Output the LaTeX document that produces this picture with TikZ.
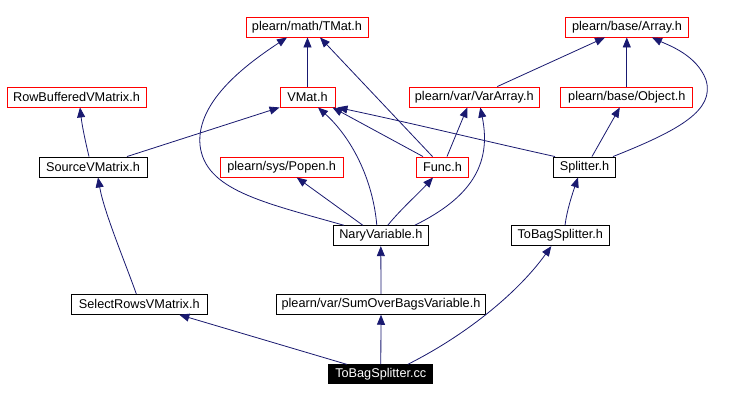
\documentclass[tikz,border=0pt]{standalone}
\usepackage{fontspec}
\setmainfont{Liberation Sans}
\usetikzlibrary{arrows.meta}
\definecolor{edgeblue}{HTML}{191970}
\begin{document}
\begin{tikzpicture}[x=1pt,y=-1pt,
  box/.style={draw=black,line width=0.9pt,minimum height=20pt,inner sep=0pt,
    font=\fontsize{12.7}{14}\selectfont,anchor=center},
  redbox/.style={box,draw=red},
  edge/.style={draw=edgeblue,line width=0.8pt,-{Triangle[length=10pt,width=8pt]}}]
\useasboundingbox (0,0) rectangle (748,401);
\fill[white] (0,0) rectangle (748,401);
% nodes
\node[redbox,minimum width=122pt] (tmat) at (307,27) {plearn/math/TMat.h};
\node[redbox,minimum width=123pt] (array) at (627,27) {plearn/base/Array.h};
\node[redbox,minimum width=139pt] (rowbuf) at (76.5,97) {RowBufferedVMatrix.h};
\node[redbox,minimum width=55pt] (vmat) at (307.5,97) {VMat.h};
\node[redbox,minimum width=130pt] (vararray) at (474.3,97) {plearn/var/VarArray.h};
\node[redbox,minimum width=132pt] (object) at (626.8,97) {plearn/base/Object.h};
\node[box,minimum width=108pt] (source) at (93,167) {SourceVMatrix.h};
\node[redbox,minimum width=123pt] (popen) at (281.7,167) {plearn/sys/Popen.h};
\node[redbox,minimum width=52pt] (func) at (442.5,167) {Func.h};
\node[box,minimum width=62pt] (splitter) at (584.5,167) {Splitter.h};
\node[box,minimum width=95pt] (nary) at (380.8,235.7) {NaryVariable.h};
\node[box,minimum width=98pt] (tobagh) at (560.3,235.7) {ToBagSplitter.h};
\node[box,minimum width=136pt] (select) at (139.3,304.3) {SelectRowsVMatrix.h};
\node[box,minimum width=209pt] (sumover) at (381,304.3) {plearn/var/SumOverBagsVariable.h};
\node[box,minimum width=104pt,minimum height=19pt,fill=black,text=white] (cc) at (380.8,374.3) {ToBagSplitter.cc};
% edges
\draw[edge] ([xshift=-34pt]cc.north) -- ([xshift=40pt]select.south);
\draw[edge] (cc.north) -- (sumover.south);
\draw[edge] ([xshift=27pt]cc.north) .. controls (470,333) and (520,290) .. ([xshift=-9pt]tobagh.south);
\draw[edge] ([xshift=-3pt]select.north) .. controls (125,262) and (104,212) .. ([xshift=5pt]source.south);
\draw[edge] ([xshift=-4pt]source.north) .. controls (85,140) and (82,125) .. ([xshift=3.5pt]rowbuf.south);
\draw[edge] ([xshift=34pt]source.north) -- (vmat.south west);
\draw[edge] (sumover.north) -- (nary.south);
\draw[edge] ([xshift=-37pt]nary.north) .. controls (262,202) and (205,190) .. (200,145)
  .. controls (196,100) and (250,62) .. ([xshift=-20pt]tmat.south);
\draw[edge] ([xshift=-4pt]nary.north) .. controls (373,180) and (352,138) .. ([xshift=10.5pt]vmat.south);
\draw[edge] ([xshift=-18pt]nary.north) -- ([xshift=15pt]popen.south);
\draw[edge] ([xshift=7pt]nary.north) .. controls (400,210) and (420,192) .. ([xshift=-9.5pt]func.south);
\draw[edge] ([xshift=34pt]nary.north) .. controls (470,198) and (492,165) .. ([xshift=6pt]vararray.south);
\draw[edge] ([xshift=-10pt]func.north) -- ([xshift=13pt]tmat.south);
\draw[edge] ([xshift=-19.5pt]func.north) -- ([xshift=-3pt]vmat.south east);
\draw[edge] ([xshift=4.5pt]func.north) -- ([xshift=-7pt]vararray.south);
\draw[edge] ([xshift=-29.5pt]splitter.north) .. controls (480,140) and (420,125) .. ([xshift=2pt]vmat.south east);
\draw[edge] ([xshift=7.5pt]splitter.north) -- ([xshift=-7pt]object.south);
\draw[edge] ([xshift=28.5pt]splitter.north) .. controls (680,130) and (715,110) .. (706,80)
  .. controls (697,55) and (668,45) .. ([xshift=25pt]array.south);
\draw[edge] ([xshift=23pt]vararray.north) -- ([xshift=-22pt]array.south);
\draw[edge] (object.north) -- (object.north |- array.south);
\draw[edge] (vmat.north) -- (vmat.north |- tmat.south);
\draw[edge] ([xshift=4.7pt]tobagh.north) .. controls (567,210) and (572,195) .. ([xshift=-6.5pt]splitter.south);
\end{tikzpicture}
\end{document}
